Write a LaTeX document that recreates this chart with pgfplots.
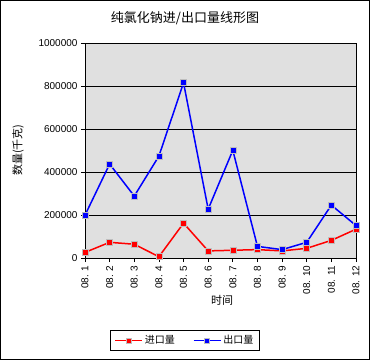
\documentclass[border=0pt]{standalone}
\usepackage{pgfplots}
\pgfplotsset{compat=1.18}
\usepackage{fontspec}
\setmainfont{Liberation Sans}
\newfontfamily\cjk{Noto Sans CJK SC}
\definecolor{bg}{RGB}{224,224,224}
\definecolor{mk}{RGB}{190,190,190}
\begin{document}
\begin{tikzpicture}
\draw[line width=1pt] (0.5pt,0.5pt) rectangle (369.5pt,359.5pt);
\node[font=\cjk\fontsize{13}{15}\selectfont] at (185pt,342pt) {纯氯化钠进/出口量线形图};
\node[font=\cjk\fontsize{11}{13}\selectfont] at (222pt,60pt) {时间};
\node[font=\cjk\fontsize{11}{13}\selectfont, rotate=90] at (18pt,210pt) {数量(千克)};
\begin{axis}[
  at={(85pt,102pt)}, anchor=south west, scale only axis,
  width=271pt, height=215pt,
  xmin=1, xmax=12, ymin=0, ymax=1000000,
  xtick={1,...,12},
  xticklabels={08. 1,08. 2,08. 3,08. 4,08. 5,08. 6,08. 7,08. 8,08. 9,08. 10,08. 11,08. 12},
  x tick label style={rotate=90, anchor=east, font=\fontsize{10}{12}\selectfont},
  ytick={0,200000,400000,600000,800000,1000000},
  scaled y ticks=false,
  yticklabel style={/pgf/number format/fixed, /pgf/number format/1000 sep={}, font=\fontsize{10}{12}\selectfont},
  /pgf/number format/assume math mode=true,
  ymajorgrids, grid style={black, line width=0.8pt},
  axis background/.style={fill=bg},
  axis line style={black, line width=0.8pt},
  tick pos=left, tick align=outside, major tick length=4pt,
  tick style={black, line width=0.8pt},
  clip=false,
  legend columns=2,
  legend style={at={(0.092,-0.335)}, anchor=north west, draw=black, line width=0.8pt,
    font=\cjk\fontsize{10}{12}\selectfont, fill=white, inner xsep=4pt, inner ysep=3pt,
    /tikz/every even column/.append style={column sep=16pt}},
  legend image code/.code={
    \draw[#1, line width=1.5pt] (0pt,0pt) -- (27pt,0pt);
    \draw[#1, line width=0.6pt, mark size=2.5pt] plot coordinates {(13.5pt,0pt)};
  },
]
\addplot[red, line width=1.5pt, mark=square*, mark size=3pt, mark options={fill=red, draw=mk, line width=0.6pt}]
coordinates {(1,26000) (2,73000) (3,64000) (4,6000) (5,162000) (6,33000) (7,36000) (8,39000) (9,33000) (10,45000) (11,82000) (12,134000)};
\addlegendentry{进口量}
\addplot[blue, line width=1.5pt, mark=square*, mark size=3pt, mark options={fill=blue, draw=mk, line width=0.6pt}]
coordinates {(1,199000) (2,437000) (3,288000) (4,474000) (5,815000) (6,227000) (7,501000) (8,54000) (9,39000) (10,73000) (11,246000) (12,151000)};
\addlegendentry{出口量}
\end{axis}
\end{tikzpicture}
\end{document}
